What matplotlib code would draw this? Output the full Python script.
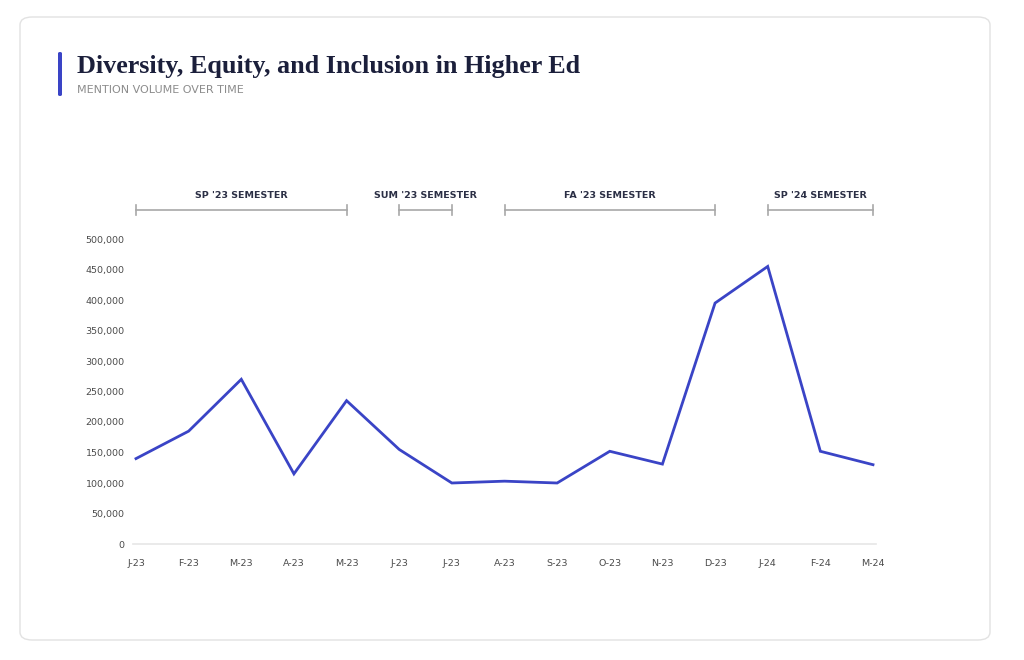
import matplotlib
matplotlib.use('Agg')
import matplotlib.pyplot as plt
from matplotlib.patches import FancyBboxPatch
from matplotlib.ticker import FuncFormatter
import matplotlib.transforms as mtransforms

months = ['J-23', 'F-23', 'M-23', 'A-23', 'M-23', 'J-23', 'J-23', 'A-23',
          'S-23', 'O-23', 'N-23', 'D-23', 'J-24', 'F-24', 'M-24']
mentions = [140000, 185000, 270000, 115000, 235000, 155000, 100000, 103000,
            100000, 152000, 131000, 395000, 455000, 152000, 130000]
semesters = ["SP '23 SEMESTER", "SUM '23 SEMESTER", "FA '23 SEMESTER", "SP '24 SEMESTER"]
semester_start = [0, 5, 7, 12]
semester_end = [4, 6, 11, 14]
y_ticks = [0, 50000, 100000, 150000, 200000, 250000, 300000, 350000, 400000, 450000, 500000]

line_color = '#3a44c6'
navy = '#1b1f3b'
label_font = 'DejaVu Sans'

fig = plt.figure(figsize=(10.24, 6.6), dpi=100)
W, H = 1024, 660

# card, kept behind the axes
card = FancyBboxPatch((20 / W, 20 / H), 970 / W, 623 / H,
                      boxstyle='round,pad=0,rounding_size=0.012',
                      transform=fig.transFigure, facecolor='white',
                      edgecolor='#e2e2e2', linewidth=1.0, zorder=-10)
fig.patches.append(card)

# accent bar + titles
fig.patches.append(FancyBboxPatch((58 / W, (H - 96) / H), 4 / W, 44 / H,
                                  boxstyle='round,pad=0,rounding_size=0.002',
                                  transform=fig.transFigure, facecolor=line_color,
                                  edgecolor='none', zorder=-5))
fig.text(77 / W, (H - 66) / H, 'Diversity, Equity, and Inclusion in Higher Ed',
         fontsize=18.8, fontweight='bold', family='Liberation Serif', color=navy,
         va='center', ha='left')
fig.text(77 / W, (H - 90) / H, 'MENTION VOLUME OVER TIME',
         fontsize=8.0, family=label_font, color='#8c8c8c', va='center', ha='left')

# axes placed so that x=0 sits at 136px and x=14 at 873px
pad = 0.06
step = (873 - 136) / 14
left_px = 136 - pad * step
right_px = 873 + pad * step
ax = fig.add_axes([left_px / W, (H - 544) / H, (right_px - left_px) / W, 305 / H])
ax.patch.set_alpha(0)
x = list(range(len(months)))
ax.plot(x, mentions, color=line_color, linewidth=2, solid_joinstyle='miter', clip_on=False)
ax.set_xlim(-pad, len(months) - 1 + pad)
ax.set_ylim(0, 500000)
ax.set_xticks(x)
ax.set_xticklabels(months)
ax.set_yticks(y_ticks)
ax.yaxis.set_major_formatter(FuncFormatter(lambda v, p: f'{int(v):,}'))
for s in ['top', 'right', 'left']:
    ax.spines[s].set_visible(False)
ax.spines['bottom'].set_color('#e6e6e6')
ax.spines['bottom'].set_linewidth(1.2)
ax.tick_params(axis='both', length=0, labelsize=6.8, labelcolor='#4a4a4a')
ax.tick_params(axis='x', pad=11)
ax.tick_params(axis='y', pad=6)
for lab in ax.get_xticklabels() + ax.get_yticklabels():
    lab.set_family(label_font)

# semester brackets
trans = mtransforms.blended_transform_factory(ax.transData, ax.transAxes)
by = (544 - 210) / 305
ty = (544 - 195) / 305
tick_h = 5 / 305
for name, a, b in zip(semesters, semester_start, semester_end):
    ax.plot([a, b], [by, by], color='#a8a8a8', linewidth=1.2, transform=trans, clip_on=False)
    for e in (a, b):
        ax.plot([e, e], [by - tick_h, by + tick_h], color='#a8a8a8', linewidth=1.2,
                transform=trans, clip_on=False)
    ax.text((a + b) / 2, ty, name, transform=trans, ha='center', va='center',
            fontsize=6.8, fontweight='bold', family=label_font, color='#2b2f45')

fig.savefig('out.png', dpi=100)
